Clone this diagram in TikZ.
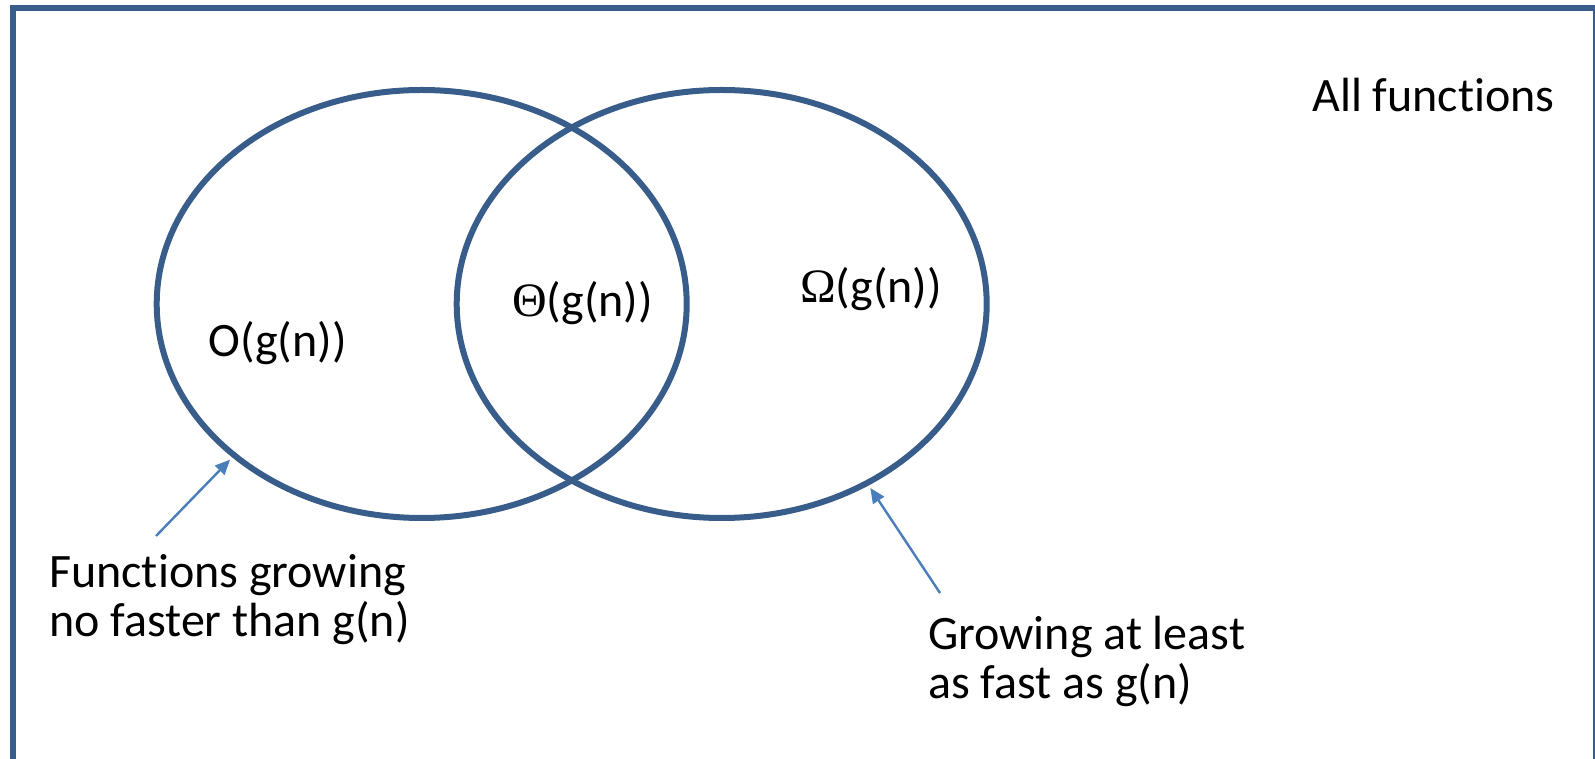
\documentclass[tikz,border=0pt]{standalone}
\usepackage{fontspec}
\setmainfont[RawFeature={-liga,-dlig,-calt}]{Carlito}
\newfontfamily\symfont{Liberation Serif}
\usetikzlibrary{shapes.geometric}
\usetikzlibrary{arrows.meta}
\definecolor{setblue}{RGB}{56,93,138}
\definecolor{arrowblue}{RGB}{74,126,187}

\begin{document}
\begin{tikzpicture}[x=1pt, y=1pt,
		setline/.style={draw=setblue, line width=6pt},
		ring/.style={setline, ellipse, inner sep=0pt, minimum width=530pt, minimum height=428pt},
		pointer/.style={draw=arrowblue, line width=2.4pt, -{Triangle[length=15pt,width=13pt]}, shorten >=3pt},
		lbl/.style={anchor=base west, inner sep=0pt, align=left, font=\fontsize{48}{49}\selectfont}]
		\useasboundingbox (0,0) rectangle (1595,758);
		\draw[setline] (12.5,-12) rectangle (1595.5,749.5);
		% the two sets
		\node[ring] (setO) at (421.7,454) {};
		\node[ring] (setOmega) at (721.7,454) {};
		\node[lbl] (allfn) at (1312,646) {All functions};
		\node[lbl] (bigO) at (208.5,401) {O(g(n))};
		\node[lbl] (theta) at (512,441) {{\symfont Θ}(g(n))};
		\node[lbl] (omega) at (800,455) {{\symfont Ω}(g(n))};
		\node[lbl] (slower) at (49,122) {Functions growing\\no faster than g(n)};
		\node[lbl] (faster) at (928,60) {Growing at least\\as fast as g(n)};
		% pointers to the borders
		\coordinate (slowtail) at (156,222);
		\coordinate (fasttail) at (940,165);
		\draw[pointer] (slowtail) -- (setO.219);
		\draw[pointer] (fasttail) -- (setOmega.309.8);
	\end{tikzpicture}
\end{document}
